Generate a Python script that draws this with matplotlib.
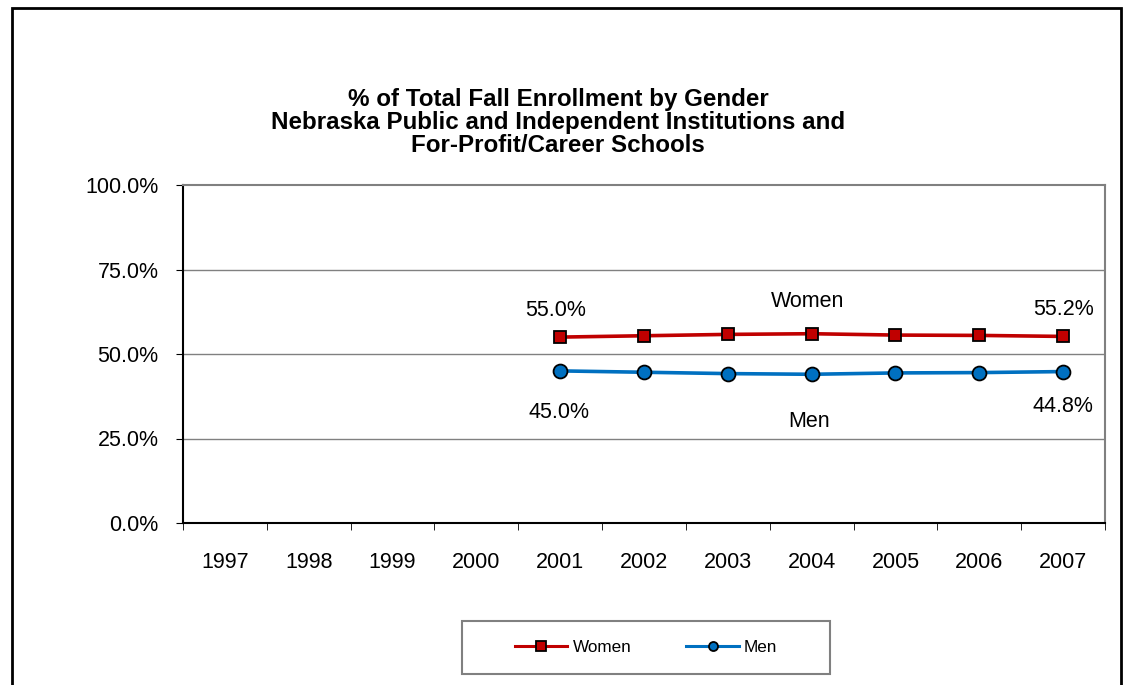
import matplotlib
matplotlib.use("Agg")
import matplotlib.pyplot as plt
from matplotlib.patches import Rectangle
from matplotlib.ticker import FixedLocator, NullFormatter

plt.rcParams['font.family'] = ['Liberation Sans', 'DejaVu Sans']

years = ['1997', '1998', '1999', '2000', '2001', '2002', '2003', '2004', '2005', '2006', '2007']
data_years = ['2001', '2002', '2003', '2004', '2005', '2006', '2007']
women = [55.0, 55.4, 55.8, 56.0, 55.6, 55.5, 55.2]
men = [45.0, 44.6, 44.2, 44.0, 44.4, 44.5, 44.8]
yticks = [0, 25, 50, 75, 100]
title = "% of Total Fall Enrollment by Gender\nNebraska Public and Independent Institutions and\nFor-Profit/Career Schools"

W, H = 1126, 685
fig = plt.figure(figsize=(W / 100, H / 100), dpi=100)
fig.patch.set_facecolor('white')

# outer chart border
fig.patches.append(Rectangle((12 / W, -0.05), (1121 - 12) / W, 1 - 8 / H + 0.05,
                             transform=fig.transFigure, fill=False,
                             edgecolor='black', linewidth=2))
# legend box
fig.patches.append(Rectangle((462 / W, 1 - 674 / H), (830 - 462) / W, (674 - 621) / H,
                             transform=fig.transFigure, fill=True, facecolor='white',
                             edgecolor='#808080', linewidth=1.5))

ax = fig.add_axes([183 / W, 1 - 523 / H, (1105 - 183) / W, (523 - 185) / H])
x_idx = {y: i for i, y in enumerate(years)}
xs = [x_idx[y] for y in data_years]

for v in [25, 50, 75]:
    ax.axhline(v, color='#808080', linewidth=1, zorder=1)

lw, = ax.plot(xs, women, color='#C00000', linewidth=2.6, marker='s', markersize=8.5,
              markerfacecolor='#C00000', markeredgecolor='black', markeredgewidth=1.3,
              label='Women', zorder=3)
lm, = ax.plot(xs, men, color='#0070C0', linewidth=2.6, marker='o', markersize=10,
              markerfacecolor='#0070C0', markeredgecolor='black', markeredgewidth=1.3,
              label='Men', zorder=3)

FS = 15.5
ax.set_xlim(-0.5, len(years) - 0.5)
ax.set_ylim(0, 100)
ax.set_yticks(yticks)
ax.set_yticklabels([f"{v:.1f}%" for v in yticks], fontsize=FS)
ax.set_xticks(range(len(years)))
ax.set_xticklabels(years, fontsize=FS)
ax.tick_params(axis='x', length=0, pad=21)
ax.xaxis.set_minor_locator(FixedLocator([i - 0.5 for i in range(len(years) + 1)]))
ax.xaxis.set_minor_formatter(NullFormatter())
ax.tick_params(axis='x', which='minor', length=5, color='black')
ax.tick_params(axis='y', length=5, color='black', pad=12.5)

for s in ['top', 'right']:
    ax.spines[s].set_color('#808080')
    ax.spines[s].set_linewidth(1.5)
for s in ['left', 'bottom']:
    ax.spines[s].set_color('black')
    ax.spines[s].set_linewidth(1.5)

def lab(text, x, y, dx, dy):
    ax.annotate(text, (x, y), xytext=(dx, dy), textcoords='offset points',
                ha='center', va='center', fontsize=FS)

lab(f"{women[0]:.1f}%", xs[0], women[0], -3.6, 19)
lab(f"{women[-1]:.1f}%", xs[-1], women[-1], 0, 19.5)
lab(f"{men[0]:.1f}%", xs[0], men[0], -0.7, -30)
lab(f"{men[-1]:.1f}%", xs[-1], men[-1], 0, -24.8)
lab("Women", x_idx['2004'], women[3], -2.9, 23.5)
lab("Men", x_idx['2004'], men[3], -2, -34)

fig.text(558 / W, 1 - 122.5 / H, title, ha='center', va='center', fontsize=17.4,
         fontweight='bold', linespacing=1.0)

leg = fig.legend(handles=[lw, lm], loc='center', bbox_to_anchor=(646 / W, 1 - 647.5 / H),
                 ncol=2, fontsize=12.3, frameon=False, handlelength=3.1,
                 borderpad=1.0, borderaxespad=0, columnspacing=3.2, handletextpad=0.3)
for h in leg.legend_handles:
    h.set_markersize(6.5)
    h.set_linewidth(2.2)

fig.savefig('out.png', dpi=100)
